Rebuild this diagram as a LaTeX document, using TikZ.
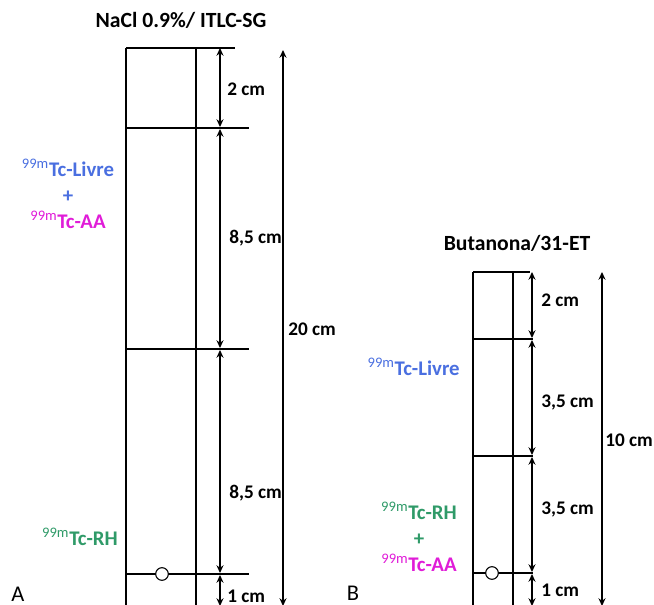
\documentclass[tikz,border=0pt]{standalone}
\usepackage{fontspec}
\setmainfont{Carlito}
\usetikzlibrary{arrows.meta,positioning}
\definecolor{tcBlue}{HTML}{4A6FE0}
\definecolor{tcPink}{HTML}{E01CD8}
\definecolor{tcGreen}{HTML}{2F9A68}
\newcommand{\tcspecies}[1]{\textsuperscript{\mdseries 99m}Tc-#1}
\tikzset{
  % Strip outline and marks
  strip/.style={line width=0.75pt,color=black},
  % Dimension arrows
  dim/.style={{Stealth[length=5.5pt,width=5pt]}-{Stealth[length=5.5pt,width=5pt]},
    line width=0.75pt,color=black},
  % Dimension labels
  dimlbl/.style={font=\fontsize{13.7}{15}\selectfont\bfseries,anchor=west,inner sep=0pt},
  % Titles
  ttl/.style={font=\fontsize{15.4}{17}\selectfont\bfseries,inner sep=0pt},
  % Species labels
  spc/.style={font=\fontsize{14.8}{18.5}\selectfont\bfseries,align=center,inner sep=0pt},
  % Panel letters
  pnl/.style={font=\fontsize{16}{18}\selectfont,inner sep=0pt},
  % Application spot
  spot/.style={circle,draw,line width=0.75pt,fill=white,minimum size=9pt,inner sep=0pt},
}
\begin{document}
\begin{tikzpicture}[x=0.025cm,y=-0.025cm]
  \useasboundingbox (0,0) rectangle (654,605);

  % ---- panel A: NaCl / ITLC-SG ----
  \node[ttl] (titleA) at (181,20) {NaCl 0.9\%/ ITLC-SG};
  \draw[strip] (126,48) -- (235,48);
  \draw[strip] (126,48) -- (126,605);
  \draw[strip] (196,48) -- (196,605);
  \draw[strip] (126,128) -- (249,128);
  \draw[strip] (126,349) -- (249,349);
  \draw[strip] (126,574) -- (249,574);
  \node[spot] (spotA) at (162,574) {};

  \coordinate (a0) at (220,48);
  \coordinate (a1u) at (220,127);
  \coordinate (a1d) at (220,129);
  \coordinate (a2u) at (220,348);
  \coordinate (a2d) at (220,350);
  \coordinate (a3u) at (220,573);
  \coordinate (a3d) at (220,575);
  \coordinate (a4) at (220,606);
  \draw[dim] (a0) -- (a1u);
  \draw[dim] (a1d) -- (a2u);
  \draw[dim] (a2d) -- (a3u);
  \draw[dim] (a3d) -- (a4);
  \coordinate (aTot0) at (283,50);
  \coordinate (aTot1) at (283,606);
  \draw[dim] (aTot0) -- (aTot1);

  \node[dimlbl] (lA1) at (227,89) {2 cm};
  \node[dimlbl] (lA2) at (229,238) {8,5 cm};
  \node[dimlbl] (lA3) at (229,493) {8,5 cm};
  \node[dimlbl] (lA4) at (227,596) {1 cm};
  \node[dimlbl] (lATot) at (288,329) {20 cm};

  \node[spc] (topA) at (68,194)
    {{\color{tcBlue}\tcspecies{Livre}}\\
     {\color{tcBlue}+}\\
     {\color{tcPink}\tcspecies{AA}}};
  \node[spc,anchor=east] (rhA) at (118,537) {\color{tcGreen}\tcspecies{RH}};
  \node[pnl] (panelA) at (18,594) {A};

  % ---- panel B: Butanona / 31-ET ----
  \node[ttl] (titleB) at (517,243) {Butanona/31-ET};
  \draw[strip] (473,272) -- (530,272);
  \draw[strip] (473,272) -- (473,605);
  \draw[strip] (513,272) -- (513,605);
  \draw[strip] (473,339) -- (533,339);
  \draw[strip] (473,456) -- (533,456);
  \draw[strip] (473,573) -- (533,573);
  \node[spot] (spotB) at (492,573) {};

  \coordinate (b0) at (532,272);
  \coordinate (b1u) at (532,338);
  \coordinate (b1d) at (532,340);
  \coordinate (b2u) at (532,455);
  \coordinate (b2d) at (532,457);
  \coordinate (b3u) at (532,572);
  \coordinate (b3d) at (532,574);
  \coordinate (b4) at (532,606);
  \draw[dim] (b0) -- (b1u);
  \draw[dim] (b1d) -- (b2u);
  \draw[dim] (b2d) -- (b3u);
  \draw[dim] (b3d) -- (b4);
  \coordinate (bTot0) at (602,272);
  \coordinate (bTot1) at (602,606);
  \draw[dim] (bTot0) -- (bTot1);

  \node[dimlbl] (lB1) at (541,300) {2 cm};
  \node[dimlbl] (lB2) at (541,402) {3,5 cm};
  \node[dimlbl] (lB3) at (541,509) {3,5 cm};
  \node[dimlbl] (lB4) at (541,590) {1 cm};
  \node[dimlbl] (lBTot) at (605,440) {10 cm};

  \node[spc,anchor=east] (livreB) at (460,367) {\color{tcBlue}\tcspecies{Livre}};
  \node[spc] (botB) at (419,537)
    {{\color{tcGreen}\tcspecies{RH}}\\
     {\color{tcGreen}+}\\
     {\color{tcPink}\tcspecies{AA}}};
  \node[pnl] (panelB) at (353,593) {B};
\end{tikzpicture}
\end{document}
